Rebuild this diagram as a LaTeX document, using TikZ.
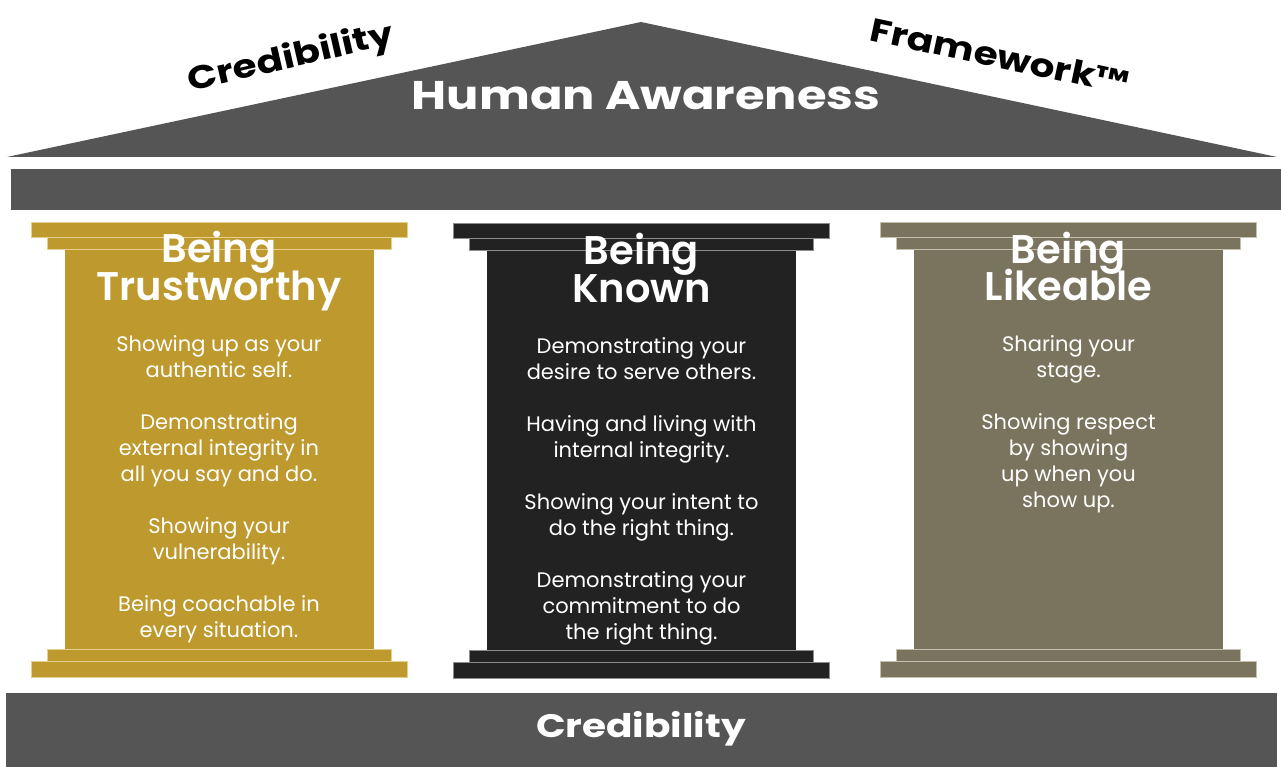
\documentclass[tikz,border=0pt]{standalone}
\usepackage{fontspec}
\setmainfont{Poppins}
\newfontfamily\semib{Poppins SemiBold}
\newfontfamily\boldwide[FakeStretch=1.2]{Poppins Bold}
\definecolor{roofgray}{HTML}{555555}
\definecolor{gold}{HTML}{BD992E}
\definecolor{goldline}{HTML}{E6CF8C}
\definecolor{ink}{HTML}{222222}
\definecolor{inkline}{HTML}{8C8C8C}
\definecolor{olive}{HTML}{7A745E}
\definecolor{oliveline}{HTML}{C4C0AE}

% One pillar: centre x, top y, fill colour, outline colour
\newcommand{\pillar}[4]{%
  \fill[#3] (#1-154.5,#2+27) rectangle (#1+154.5,#2+427);
  \filldraw[fill=#3,draw=#4,line width=0.8pt] (#1-188,#2) rectangle (#1+188,#2+15);
  \filldraw[fill=#3,draw=#4,line width=0.8pt] (#1-172,#2+15) rectangle (#1+172,#2+27);
  \filldraw[fill=#3,draw=#4,line width=0.8pt] (#1-172,#2+427) rectangle (#1+172,#2+439);
  \filldraw[fill=#3,draw=#4,line width=0.8pt] (#1-188,#2+439) rectangle (#1+188,#2+455);
}

\tikzset{
  body/.style={anchor=base,inner sep=0pt,text=white,font=\fontsize{21}{26}\selectfont},
  heading/.style={anchor=base,inner sep=0pt,text=white,font=\fontsize{40}{40}\semib},
  bigword/.style={inner sep=0pt,font=\fontsize{32.5}{32.5}\boldwide},
}

\begin{document}
\begin{tikzpicture}[x=1pt,y=-1pt]
\useasboundingbox (0,0) rectangle (1281,767);
\fill[white] (0,0) rectangle (1281,767);

% roof, beam and foundation
\fill[roofgray] (7,157) -- (641,22) -- (1277,157) -- cycle;
\fill[roofgray] (11,169) rectangle (1281,210);
\fill[roofgray] (6,693) rectangle (1277,767);

\node[bigword,anchor=base,text=white,font=\fontsize{40}{40}\boldwide] (aware) at (646,110) {Human Awareness};
\node[bigword,text=black,rotate=13] (credtop) at (291,59) {Credibility};
\node[bigword,text=black,rotate=-12] (frame) at (1000,56) {Framework™};
\node[bigword,anchor=base,text=white] (credbase) at (641,737) {Credibility};

% the three pillars
\pillar{219}{222}{gold}{goldline}
\pillar{641.5}{223}{ink}{inkline}
\pillar{1068.5}{222}{olive}{oliveline}

% headings
\foreach \cx/\yy/\txt [count=\i] in {219/262.7/Being, 219/300.7/Trustworthy,
    641.5/265/Being, 641.5/302.7/Known, 1068.5/263.3/Being, 1068.5/300.7/Likeable}
  \node[heading] (hd\i) at (\cx,\yy) {\txt};

% pillar texts
\foreach \yy/\txt [count=\i] in {351/Showing up as your, 377/authentic self.,
    429/Demonstrating, 455/external integrity in, 481/all you say and do.,
    533/Showing your, 559/vulnerability., 611/Being coachable in, 637/every situation.}
  \node[body] (trust\i) at (219,\yy) {\txt};

\foreach \yy/\txt [count=\i] in {353/Demonstrating your, 379/desire to serve others.,
    431/Having and living with, 457/internal integrity., 509/Showing your intent to,
    535/do the right thing., 587/Demonstrating your, 613/commitment to do, 639/the right thing.}
  \node[body] (known\i) at (641.5,\yy) {\txt};

\foreach \yy/\txt [count=\i] in {351/Sharing your, 377/stage., 429/Showing respect,
    455/by showing, 481/up when you, 507/show up.}
  \node[body] (like\i) at (1068.5,\yy) {\txt};
\end{tikzpicture}
\end{document}
